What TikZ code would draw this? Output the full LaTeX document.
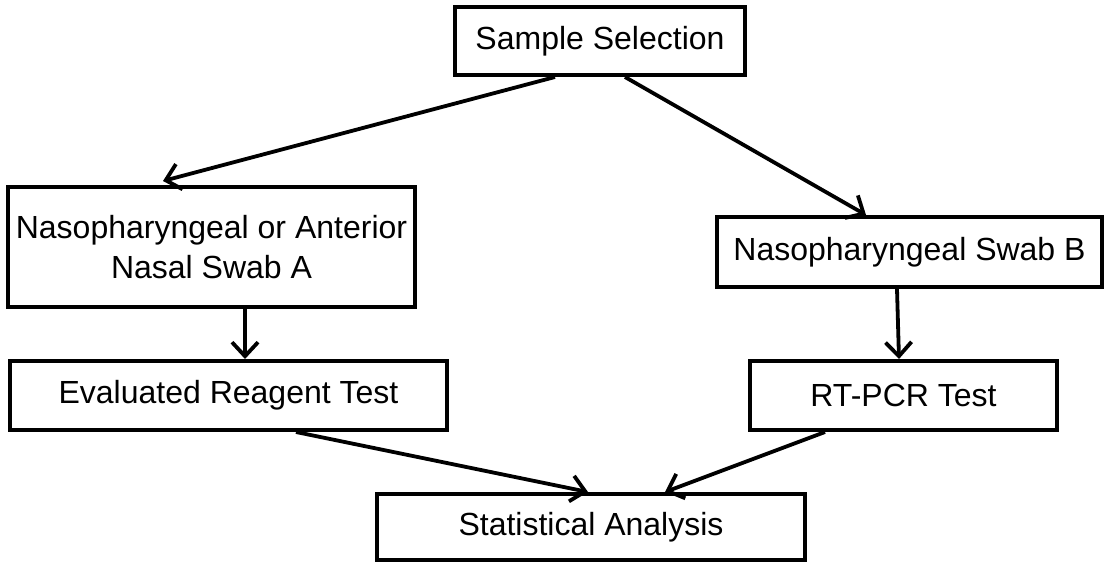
\documentclass[tikz,border=0pt]{standalone}
\usepackage{fontspec}
\setmainfont{Liberation Sans}
\usetikzlibrary{arrows.meta, calc}

\begin{document}
\begin{tikzpicture}[x=1pt, y=-1pt,
    box/.style={draw=black, line width=4pt, inner sep=0pt, align=center,
        font=\fontsize{32}{40}\selectfont},
    arr/.style={line width=3.8pt, -{Straight Barb[length=14pt, width=26pt, line width=3.8pt]}}]
                \useasboundingbox (0,0) rectangle (1105,562);
                % boxes
                \node[box, minimum width=290pt, minimum height=68pt] (sel) at (600,41) {Sample Selection};
                \node[box, minimum width=407pt, minimum height=120pt] (swabA) at (211.5,247) {Nasopharyngeal or Anterior\\Nasal Swab A};
                \node[box, minimum width=385pt, minimum height=70pt] (swabB) at (909.5,252) {Nasopharyngeal Swab B};
                \node[box, minimum width=437pt, minimum height=69pt] (eval) at (228.5,395.5) {Evaluated Reagent Test};
                \node[box, minimum width=307pt, minimum height=69pt] (rtpcr) at (903.5,395.5) {RT-PCR Test};
                \node[box, minimum width=428pt, minimum height=66pt] (stat) at (591,527) {Statistical Analysis};
                % arrows
                \draw[arr] ([xshift=102pt]sel.south west) -- ([xshift=157pt, yshift=4pt]swabA.north west);
                \draw[arr] ([xshift=172pt]sel.south west) -- ([xshift=151pt]swabB.north west);
                \draw[arr] ([xshift=239pt]swabA.south west) -- ([xshift=237pt]eval.north west);
                \draw[arr] ([xshift=182pt]swabB.south west) -- ([xshift=151pt]rtpcr.north west);
                \draw[arr] ([xshift=288pt]eval.south west) -- ([xshift=213pt]stat.north west);
                \draw[arr] ([xshift=77pt]rtpcr.south west) -- ([xshift=290pt]stat.north west);
            \end{tikzpicture}
\end{document}
